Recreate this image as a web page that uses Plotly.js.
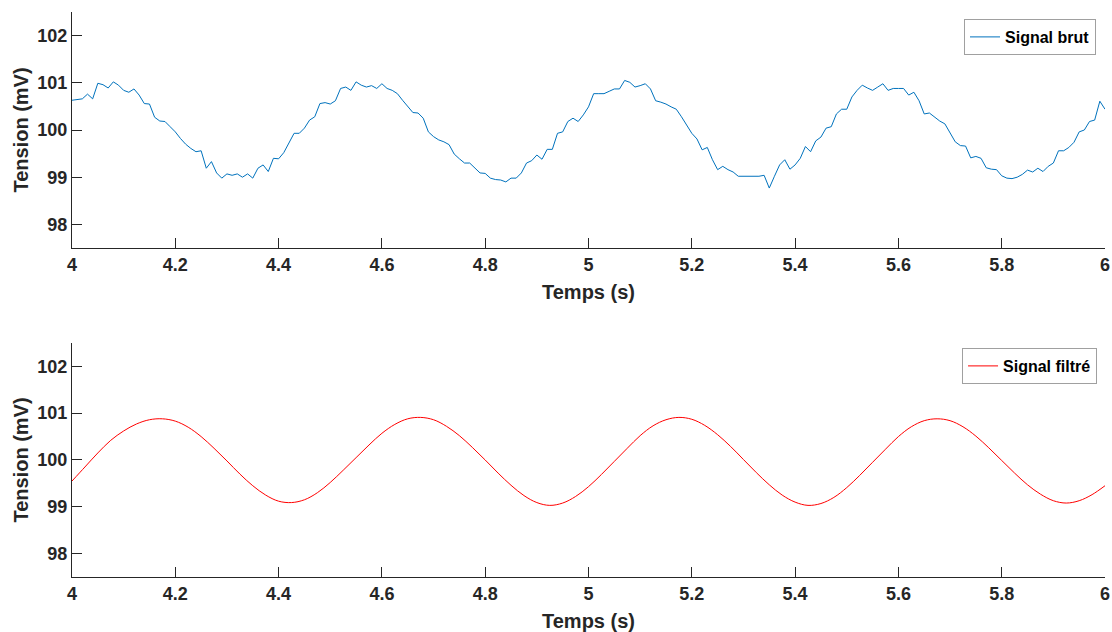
<!DOCTYPE html>
<html>
<head>
<meta charset="utf-8">
<script src="https://cdn.plot.ly/plotly-3.0.1.min.js"></script>
<style>html,body{margin:0;padding:0;background:#fff;}#chart{width:1112px;height:632px;}</style>
</head>
<body>
<div id="chart"></div>
<script>
// Raw signal, sampled every 0.01 s from 4.00 to 6.00 s
const tStart = 4.0;
const tStep = 0.01;
const rawValues = [
100.63,100.65,100.66,100.76,100.66,100.99,100.96,100.89,101.02,100.95,
100.84,100.80,100.87,100.74,100.56,100.55,100.27,100.19,100.18,100.07,
99.96,99.82,99.70,99.61,99.54,99.56,99.19,99.33,99.09,98.98,
99.07,99.04,99.07,99.00,99.07,98.98,99.19,99.26,99.12,99.40,
99.39,99.52,99.72,99.93,99.93,100.04,100.21,100.28,100.56,100.58,
100.55,100.62,100.88,100.91,100.84,101.02,100.95,100.91,100.94,100.88,
100.98,100.88,100.84,100.77,100.63,100.49,100.37,100.36,100.25,99.96,
99.86,99.79,99.75,99.69,99.49,99.39,99.30,99.30,99.19,99.09,
99.08,98.98,98.95,98.94,98.90,98.98,98.98,99.09,99.30,99.35,
99.47,99.38,99.59,99.59,99.93,99.96,100.18,100.25,100.18,100.32,
100.49,100.77,100.77,100.77,100.82,100.87,100.87,101.05,101.01,100.91,
100.94,100.98,100.87,100.62,100.59,100.55,100.49,100.44,100.28,100.11,
99.93,99.81,99.58,99.63,99.37,99.16,99.23,99.16,99.11,99.02,
99.02,99.02,99.02,99.02,99.04,98.77,99.02,99.26,99.37,99.17,
99.26,99.40,99.65,99.54,99.77,99.85,100.04,100.07,100.34,100.44,
100.44,100.70,100.84,100.95,100.89,100.84,100.91,100.98,100.84,100.88,
100.88,100.88,100.74,100.80,100.62,100.34,100.36,100.27,100.19,100.13,
99.94,99.75,99.67,99.66,99.41,99.44,99.40,99.20,99.17,99.16,
99.03,98.98,98.97,99.00,99.06,99.15,99.11,99.19,99.12,99.23,
99.30,99.56,99.56,99.63,99.74,99.96,100.00,100.18,100.21,100.61,
100.44
];
// Filtered signal, read every 0.025 s from 4.000 to 6.000 s
const fStep = 0.025;
const filteredValues = [
99.55,99.85,100.15,100.42,100.62,100.77,100.86,100.88,100.83,100.70,
100.50,100.25,99.98,99.70,99.45,99.25,99.12,99.09,99.15,99.30,
99.52,99.78,100.05,100.32,100.57,100.76,100.88,100.91,100.86,100.72,
100.52,100.27,100.00,99.72,99.46,99.24,99.09,99.03,99.08,99.22,
99.43,99.69,99.97,100.25,100.52,100.73,100.86,100.91,100.87,100.74,
100.54,100.29,100.01,99.73,99.47,99.25,99.10,99.03,99.07,99.20,
99.41,99.67,99.95,100.23,100.50,100.71,100.84,100.88,100.84,100.71,
100.51,100.26,99.99,99.72,99.47,99.27,99.13,99.08,99.13,99.26,
99.45
];
const xTickVals = [4,4.2,4.4,4.6,4.8,5,5.2,5.4,5.6,5.8,6];
const xTickText = ['4','4.2','4.4','4.6','4.8','5','5.2','5.4','5.6','5.8','6'];
const yTickVals = [98,99,100,101,102];
const yTickText = ['98','99','100','101','102'];
const seriesNames = ['Signal brut','Signal filtré'];
const xLabel = 'Temps (s)';
const yLabel = 'Tension (mV)';

const rawT = rawValues.map((_, i) => +(tStart + i * tStep).toFixed(3));
const filtT = filteredValues.map((_, i) => +(tStart + i * fStep).toFixed(3));

const FONT = '"Liberation Sans", Arial, Helvetica, sans-serif';
const AX = '#262626';
function xaxis(anchor){
  return {
    anchor: anchor, range:[4,6], tickvals:xTickVals, ticktext:xTickText,
    showgrid:false, zeroline:false, showline:true, linecolor:AX, linewidth:1,
    ticks:'inside', ticklen:10, tickcolor:AX, tickwidth:1,
    tickfont:{family:FONT, size:18, color:AX, weight:'bold'},
    title:{text:'<b>'+xLabel+'</b>', font:{family:FONT, size:20, color:AX}, standoff:11},
    mirror:false
  };
}
function yaxis(anchor, domain){
  return {
    anchor: anchor, domain: domain, range:[97.5,102.5], tickvals:yTickVals, ticktext:yTickText,
    showgrid:false, zeroline:false, showline:true, linecolor:AX, linewidth:1,
    ticks:'inside', ticklen:10, tickcolor:AX, tickwidth:1,
    tickfont:{family:FONT, size:18, color:AX, weight:'bold'},
    title:{text:'<b>'+yLabel+'</b>', font:{family:FONT, size:20, color:AX}, standoff:3},
    mirror:false
  };
}
const traces = [
  {x: rawT, y: rawValues, type:'scatter', mode:'lines', name:seriesNames[0],
   line:{color:'#0072BD', width:1}, xaxis:'x', yaxis:'y', legend:'legend'},
  {x: filtT, y: filteredValues, type:'scatter', mode:'lines', name:seriesNames[1],
   line:{color:'#FF0000', width:1, shape:'spline', smoothing:1}, xaxis:'x2', yaxis:'y2', legend:'legend2'}
];
const legendBase = {
  xanchor:'right', yanchor:'top', bgcolor:'#ffffff', bordercolor:'#a0a0a0', borderwidth:1,
  font:{family:FONT, size:16, color:'#000', weight:'bold'}, tracegroupgap:0, itemwidth:30
};
const layout = {
  width:1112, height:632,
  margin:{l:72, r:7, t:12, b:55},
  paper_bgcolor:'#ffffff', plot_bgcolor:'#ffffff',
  showlegend:true,
  xaxis: xaxis('y'),
  yaxis: yaxis('x', [0.5823, 1]),
  xaxis2: xaxis('y2'),
  yaxis2: yaxis('x2', [0, 0.4142]),
  legend: Object.assign({}, legendBase, {x:0.9913, y:0.9876}),
  legend2: Object.assign({}, legendBase, {x:0.9923, y:0.4053})
};
Plotly.newPlot('chart', traces, layout, {displayModeBar:false, staticPlot:true});
</script>
</body>
</html>
